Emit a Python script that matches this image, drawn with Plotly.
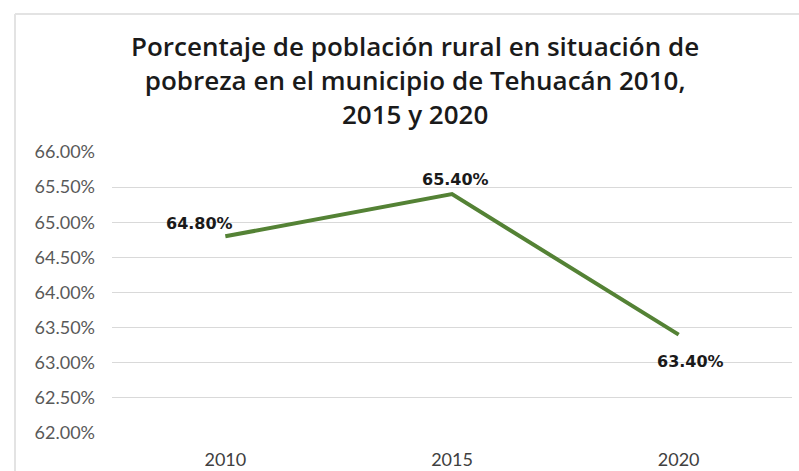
import plotly.graph_objects as go

years = [2010, 2015, 2020]
year_labels = ["2010", "2015", "2020"]
values = [64.80, 65.40, 63.40]
label_text = ["64.80%", "65.40%", "63.40%"]
label_shift_x = [-26, 3, 12]
label_shift_y = [13, 15, -27]
y_ticks = [62.0, 62.5, 63.0, 63.5, 64.0, 64.5, 65.0, 65.5, 66.0]
y_tick_text = [f"{v:.2f}%" for v in y_ticks]

title_lines = [
    "Porcentaje de población rural en situación de",
    "pobreza en el municipio de Tehuacán 2010,",
    "2015 y 2020",
]

W, H = 799, 471
L, R, T, B = 112, 7, 152, 38
PW, PH = W - L - R, H - T - B

fig = go.Figure()
fig.add_trace(go.Scatter(
    x=years, y=values, mode="lines",
    line=dict(color="#548235", width=4),
    hoverinfo="skip", showlegend=False,
))

for x, y, t, dx, dy in zip(years, values, label_text, label_shift_x, label_shift_y):
    fig.add_annotation(x=x, y=y, text="<b>" + t + "</b>", showarrow=False,
                       xshift=dx, yshift=dy,
                       font=dict(family="DejaVu Sans, sans-serif", size=16, color="#1a1a1a"))

fig.add_annotation(xref="paper", yref="paper",
                   x=(415 - L) / PW, y=(H - B - 80) / PH,
                   xanchor="center", yanchor="middle", showarrow=False, align="center",
                   text="<br>".join(title_lines),
                   font=dict(family="Open Sans, sans-serif", size=26, color="#1a1a1a", weight=600))

border_x = (15 - L) / PW
border_y = (H - B - 14) / PH

fig.update_layout(
    width=W, height=H,
    margin=dict(l=L, r=R, t=T, b=B),
    paper_bgcolor="white", plot_bgcolor="white",
    xaxis=dict(range=[2007.5, 2022.5], tickvals=years, ticktext=year_labels,
               showgrid=False, showline=False, ticks="", zeroline=False, automargin=False,
               ticklabelstandoff=14,
               tickfont=dict(family="Lato, Open Sans, sans-serif", size=18, color="#404040")),
    yaxis=dict(range=[62, 66], tickvals=y_ticks, ticktext=y_tick_text,
               showgrid=True, gridcolor="#d9d9d9", gridwidth=1.3, zeroline=False,
               showline=False, ticks="", ticklabelstandoff=16, automargin=False,
               tickfont=dict(family="Lato, Open Sans, sans-serif", size=18, color="#595959")),
    shapes=[
        dict(type="line", xref="paper", yref="paper",
             x0=border_x, x1=1.2, y0=border_y, y1=border_y,
             line=dict(color="#e3e3e3", width=2)),
        dict(type="line", xref="paper", yref="paper",
             x0=border_x, x1=border_x, y0=-0.5, y1=border_y,
             line=dict(color="#e3e3e3", width=2)),
    ],
)

fig.write_html("out.html", config={"displayModeBar": False},
               post_script="document.body.style.margin='0';document.body.style.overflow='hidden';")
